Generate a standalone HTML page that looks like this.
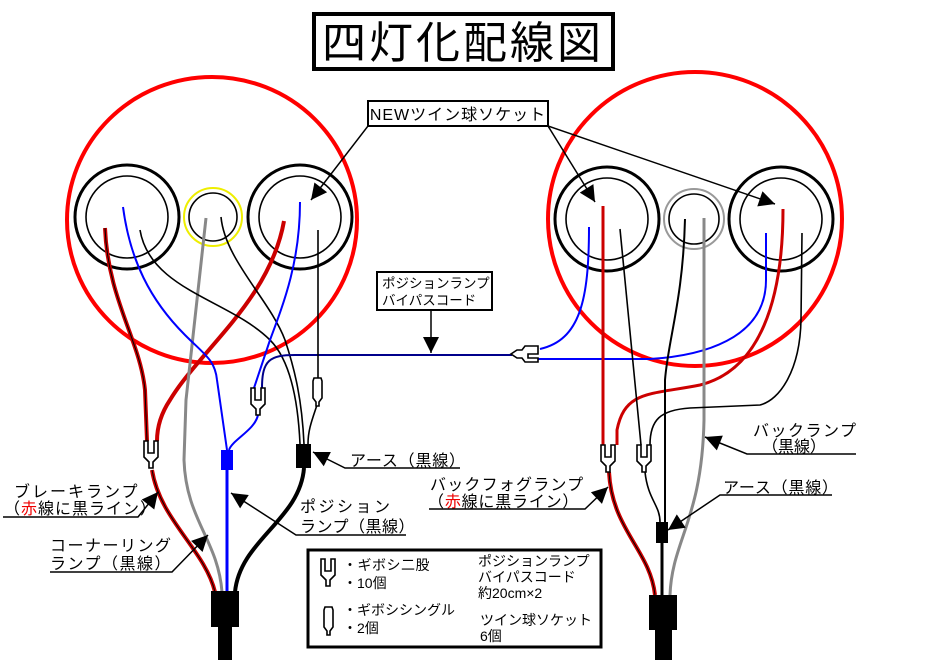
<!DOCTYPE html>
<html><head><meta charset="utf-8"><style>
html,body{margin:0;padding:0;background:#fff;}
svg{display:block;}
text{font-family:"Liberation Sans","Noto Sans CJK JP",sans-serif;fill:#000;}
</style></head><body>
<svg width="925" height="660" viewBox="0 0 925 660" xmlns="http://www.w3.org/2000/svg">
<defs>
<marker id="ah" viewBox="0 0 10 10" refX="10" refY="5" markerUnits="userSpaceOnUse" markerWidth="20" markerHeight="16" orient="auto"><path d="M0,0 L10,5 L0,10 z" fill="#000"/></marker>
<path id="gd" d="M1,0 h4 v12 h6 v-12 h4 v16 l-5,5 v6 h-4 v-6 l-5,-5 z" fill="#fff" stroke="#000" stroke-width="1.6"/>
<path id="gs" d="M1,0 h7 l1,3 v17 l-3,4 v4 h-3 v-4 l-3,-4 v-17 z" fill="#fff" stroke="#000" stroke-width="1.6"/>
</defs>

<rect x="314" y="14" width="299" height="55" fill="#fff" stroke="#000" stroke-width="4"/>
<text x="463" y="58" font-size="44" text-anchor="middle" letter-spacing="3">四灯化配線図</text>

<ellipse cx="212" cy="220" rx="145" ry="143" fill="none" stroke="#f00" stroke-width="4"/>
<circle cx="695" cy="219" r="147" fill="none" stroke="#f00" stroke-width="4"/>

<circle cx="127" cy="217" r="52" fill="none" stroke="#000" stroke-width="3"/>
<circle cx="127" cy="217" r="41" fill="none" stroke="#000" stroke-width="1.6"/>
<circle cx="213" cy="217" r="29" fill="none" stroke="#ee0" stroke-width="2"/>
<circle cx="213" cy="217" r="24" fill="none" stroke="#000" stroke-width="1.6"/>
<circle cx="300" cy="217" r="52" fill="none" stroke="#000" stroke-width="3"/>
<circle cx="300" cy="217" r="41" fill="none" stroke="#000" stroke-width="1.6"/>

<circle cx="607" cy="219" r="52" fill="none" stroke="#000" stroke-width="3"/>
<circle cx="607" cy="219" r="41" fill="none" stroke="#000" stroke-width="1.6"/>
<circle cx="694" cy="219" r="30" fill="none" stroke="#999" stroke-width="2"/>
<circle cx="694" cy="219" r="25" fill="none" stroke="#000" stroke-width="1.6"/>
<circle cx="781" cy="219" r="52" fill="none" stroke="#000" stroke-width="3"/>
<circle cx="781" cy="219" r="41" fill="none" stroke="#000" stroke-width="1.6"/>

<rect x="368" y="101" width="180" height="25" fill="#fff" stroke="#000" stroke-width="2"/>
<text x="458" y="120" font-size="16" text-anchor="middle" letter-spacing="1">NEWツイン球ソケット</text>
<line x1="368" y1="126" x2="311" y2="200" stroke="#000" stroke-width="1.5" marker-end="url(#ah)"/>
<line x1="548" y1="126" x2="595" y2="202" stroke="#000" stroke-width="1.5" marker-end="url(#ah)"/>
<line x1="548" y1="126" x2="775" y2="204" stroke="#000" stroke-width="1.5" marker-end="url(#ah)"/>

<g fill="none">
<path d="M105,228 C108,300 140,340 145,390 L147,441" stroke="#c00" stroke-width="4"/>
<path d="M105,228 C108,300 140,340 145,390 L147,441" stroke="#000" stroke-width="1"/>
<path d="M152,470 C160,520 205,550 215,592" stroke="#c00" stroke-width="4"/>
<path d="M152,470 C160,520 205,550 215,592" stroke="#000" stroke-width="1"/>
<path d="M284,221 C270,300 200,350 170,400 C160,415 157,430 157,441" stroke="#c00" stroke-width="4"/>
<path d="M206,218 L186,400 L184,460 C186,520 218,540 222,592" stroke="#888" stroke-width="3"/>
<path d="M123,207 C130,260 150,300 185,335 C205,355 215,360 217,380 L227,450" stroke="#00f" stroke-width="2"/>
<path d="M140,230 C150,290 230,300 270,340 C290,360 298,400 300,444" stroke="#000" stroke-width="1.6"/>
<path d="M221,217 C225,260 270,300 285,340 C295,370 302,400 304,444" stroke="#000" stroke-width="1.6"/>
<path d="M300,202 C300,260 285,300 270,340 L254,388" stroke="#00f" stroke-width="2"/>
<path d="M262,388 C262,360 270,355 295,355 L512,355" stroke="#00008b" stroke-width="2"/>
<path d="M318,230 L318,378" stroke="#000" stroke-width="1.6"/>
<path d="M317,405 C312,420 308,430 308,444" stroke="#000" stroke-width="1.6"/>
<path d="M258,415 C255,430 232,440 229,450" stroke="#00f" stroke-width="2"/>
<path d="M227,470 L227,592" stroke="#00f" stroke-width="3"/>
<path d="M304,468 C300,520 240,540 235,592" stroke="#000" stroke-width="4"/>
</g>
<rect x="221" y="450" width="12" height="20" fill="#00f"/>
<rect x="296" y="444" width="15" height="24" fill="#000"/>
<rect x="211" y="591" width="28" height="36" fill="#000"/>
<rect x="218" y="627" width="14" height="33" fill="#000"/>
<use href="#gd" x="143" y="441"/>
<use href="#gd" x="250" y="388"/>
<use href="#gs" x="313" y="378"/>

<rect x="377" y="272" width="115" height="38" fill="#fff" stroke="#000" stroke-width="2"/>
<text x="382" y="288" font-size="13.5">ポジションランプ</text>
<text x="382" y="305" font-size="13.5">バイパスコード</text>
<line x1="431" y1="310" x2="431" y2="353" stroke="#000" stroke-width="1.5" marker-end="url(#ah)"/>

<g fill="none">
<path d="M589,227 C589,300 580,340 540,349" stroke="#00f" stroke-width="2"/>
<path d="M538,359 L650,359 C700,356 766,340 766,280 L766,233" stroke="#00f" stroke-width="2"/>
<path d="M603,206 L603,445" stroke="#c00" stroke-width="3"/>
<path d="M783,209 C783,300 760,370 700,385 C650,395 625,390 617,430 L617,445" stroke="#c00" stroke-width="3"/>
<path d="M620,229 L641,445" stroke="#000" stroke-width="1.6"/>
<path d="M685,219 C683,300 668,340 665,380 L665,522" stroke="#000" stroke-width="2"/>
<path d="M704,218 L704,420 C702,520 672,540 670,595" stroke="#888" stroke-width="3"/>
<path d="M802,233 L801,320 C800,370 780,400 760,405 L690,408 C660,410 650,420 650,445" stroke="#000" stroke-width="1.6"/>
<path d="M609,472 C612,530 650,550 655,595" stroke="#c00" stroke-width="4"/>
<path d="M609,472 C612,530 650,550 655,595" stroke="#000" stroke-width="1"/>
<path d="M645,472 C648,500 660,505 660,522" stroke="#000" stroke-width="1.6"/>
<path d="M662,543 L662,595" stroke="#000" stroke-width="3"/>
</g>
<rect x="656" y="522" width="12" height="21" fill="#000"/>
<rect x="649" y="595" width="28" height="35" fill="#000"/>
<rect x="655" y="630" width="17" height="30" fill="#000"/>
<use href="#gd" x="600" y="445"/>
<use href="#gd" x="636" y="445"/>
<path d="M538,346 h-13 l-3,4 h-5 l-6,4 l6,4 h5 l3,4 h13 v-4 h-10 v-4 h10 z" fill="#fff" stroke="#000" stroke-width="1.6"/>

<g font-size="16">
<text x="350" y="466" letter-spacing="0.8">アース（黒線）</text>
<text x="300" y="512" letter-spacing="2.5">ポジション</text>
<text x="300" y="532" letter-spacing="0.5">ランプ（黒線）</text>
<text x="14" y="497" letter-spacing="2">ブレーキランプ</text>
<text x="4" y="514" letter-spacing="1"><tspan>（</tspan><tspan style="fill:#e00">赤</tspan><tspan>線に黒ライン）</tspan></text>
<text x="50" y="551" letter-spacing="1.5">コーナーリング</text>
<text x="50" y="569" letter-spacing="1.5">ランプ（黒線）</text>
<text x="753" y="436" letter-spacing="1.5">バックランプ</text>
<text x="762" y="452">（黒線）</text>
<text x="723" y="493" letter-spacing="0.8">アース（黒線）</text>
<text x="430" y="490" letter-spacing="1.2">バックフォグランプ</text>
<text x="428" y="507" letter-spacing="0.8"><tspan>（</tspan><tspan style="fill:#e00">赤</tspan><tspan>線に黒ライン）</tspan></text>
</g>
<g stroke="#000" stroke-width="1.5" fill="none">
<polyline points="460,468 345,468 313,452" marker-end="url(#ah)"/>
<polyline points="406,535 296,535 231,493" marker-end="url(#ah)"/>
<polyline points="3,517 138,517 158,492" marker-end="url(#ah)"/>
<polyline points="50,572 172,572 208,535" marker-end="url(#ah)"/>
<polyline points="856,454 747,454 705,437" marker-end="url(#ah)"/>
<polyline points="832,495 720,495 668,530" marker-end="url(#ah)"/>
<polyline points="429,509 585,509 608,487" marker-end="url(#ah)"/>
</g>

<rect x="308" y="550" width="293" height="97" fill="#fff" stroke="#000" stroke-width="3"/>
<use href="#gd" x="320" y="559"/>
<use href="#gs" x="324" y="607"/>
<g font-size="14">
<text x="343" y="570" letter-spacing="0.5">・ギボシ二股</text>
<text x="343" y="588">・10個</text>
<text x="343" y="615">・ギボシシングル</text>
<text x="343" y="633">・2個</text>
<text x="478" y="566">ポジションランプ</text>
<text x="478" y="582">バイパスコード</text>
<text x="478" y="598">約20cm×2</text>
<text x="480" y="625">ツイン球ソケット</text>
<text x="480" y="641">6個</text>
</g>
</svg>
</body></html>
